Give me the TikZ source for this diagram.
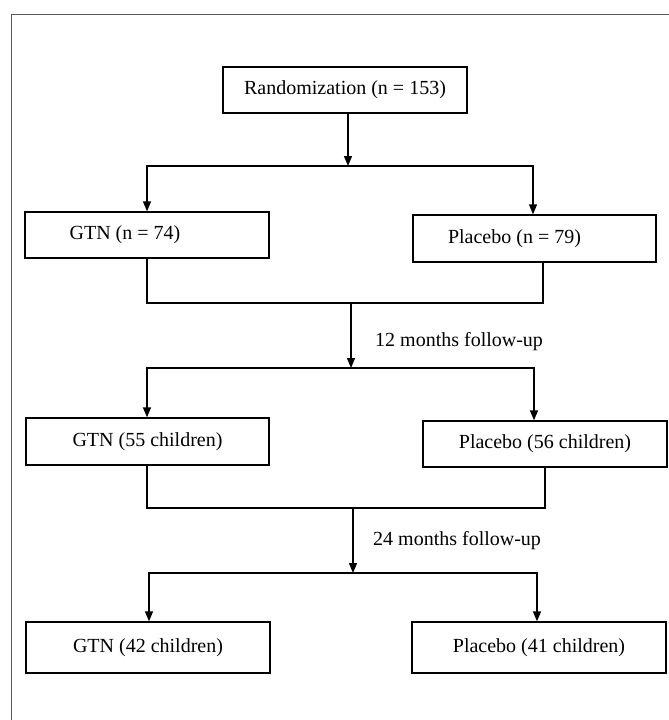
\documentclass[tikz,border=0pt]{standalone}
\usepackage{fontspec}
\setmainfont{Liberation Serif}
\usetikzlibrary{arrows.meta,positioning,calc}
\begin{document}
\begin{tikzpicture}[x=1pt,y=1pt,
  box/.style={draw,line width=1.3pt,minimum width=#1,inner sep=0pt,font=\fontsize{20}{24}\selectfont},
  conn/.style={line width=1.3pt},
  arr/.style={conn,-{Triangle[length=10pt,width=8pt]}},
  lbl/.style={font=\fontsize{20}{24}\selectfont,anchor=west,inner sep=0pt}]
\useasboundingbox (0,0) rectangle (669,-720);
\draw[line width=0.9pt,gray!70!black] (11,-720) -- (11,-14) -- (669,-14);
% boxes
\node[box=244pt,minimum height=46pt] (rand) at (345,-90) {Randomization (n = 153)};
\node[box=244pt,minimum height=46pt] (gtn1) at (147,-235) {GTN (n = 74)\kern44pt};
\node[box=243pt,minimum height=47pt] (pla1) at (534.5,-238.5) {Placebo (n = 79)\kern40pt};
\node[box=243pt,minimum height=47pt] (gtn2) at (147.5,-441.5) {GTN (55 children)};
\node[box=244pt,minimum height=46pt] (pla2) at (545,-444) {Placebo (56 children)};
\node[box=244pt,minimum height=51pt] (gtn3) at (148,-647.5) {GTN (42 children)};
\node[box=254pt,minimum height=51pt] (pla3) at (539,-647.5) {Placebo (41 children)};
% helper coordinates
\coordinate (j1) at (348,-166);
\coordinate (c147) at (147,0);
\coordinate (c533) at (533,0);
\coordinate (c543) at (543,0);
\coordinate (m1) at (351,-303);
\coordinate (j2) at (351,-368);
\coordinate (c534) at (534,0);
\coordinate (c545) at (545,0);
\coordinate (m2) at (353,-508);
\coordinate (j3) at (353,-573);
\coordinate (c149) at (149,0);
\coordinate (c537) at (537,0);
% level 1
\draw[arr] (rand.south -| j1) -- (j1);
\draw[arr] (j1) -| (gtn1.north -| c147);
\draw[arr] (j1) -| (pla1.north -| c533);
% merge 1
\draw[conn] (gtn1.south -| c147) |- (m1);
\draw[conn] (pla1.south -| c543) |- (m1);
\draw[arr] (m1) -- (j2);
\node[lbl] (l12) at (375,-342) {12 months follow-up};
% level 2
\draw[arr] (j2) -| (gtn2.north -| c147);
\draw[arr] (j2) -| (pla2.north -| c534);
% merge 2
\draw[conn] (gtn2.south -| c147) |- (m2);
\draw[conn] (pla2.south -| c545) |- (m2);
\draw[arr] (m2) -- (j3);
\node[lbl] (l24) at (373,-541) {24 months follow-up};
% level 3
\draw[arr] (j3) -| (gtn3.north -| c149);
\draw[arr] (j3) -| (pla3.north -| c537);
\end{tikzpicture}
\end{document}
